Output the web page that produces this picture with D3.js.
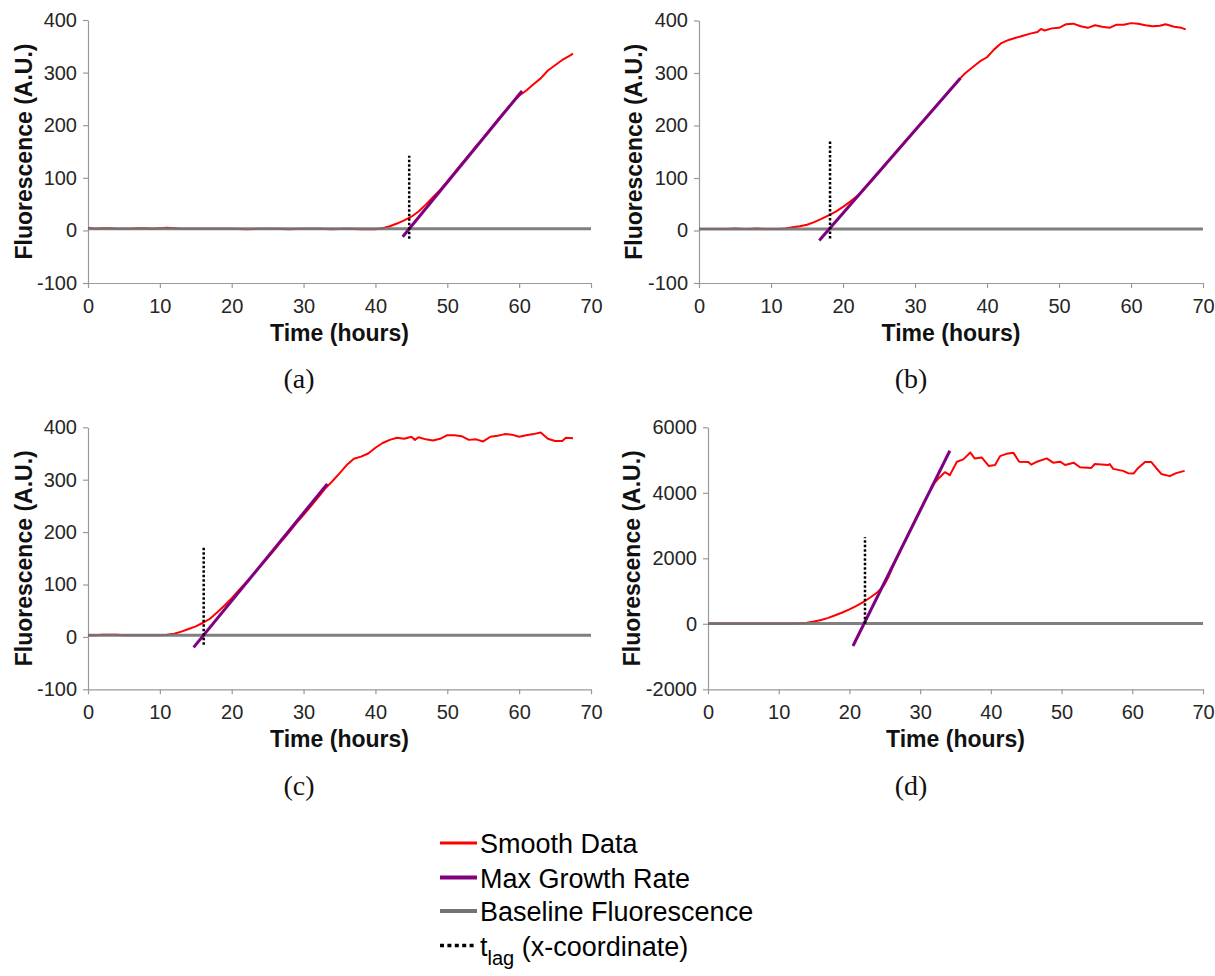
<!DOCTYPE html>
<html>
<head>
<meta charset="utf-8">
<script src="https://cdn.jsdelivr.net/npm/d3@7"></script>
<style>
  body { margin: 0; background: #fff; }
  svg { display: block; }
</style>
</head>
<body>
<svg id="fig" width="1215" height="976"></svg>
<script>
// ---- data: time (hours) vs fluorescence (A.U.) ----
const timeTicks = [0, 10, 20, 30, 40, 50, 60, 70];
const fluorTicksSmall = [-100, 0, 100, 200, 300, 400];
const fluorTicksLarge = [-2000, 0, 2000, 4000, 6000];
const panelLabels = ["(a)", "(b)", "(c)", "(d)"];

const smoothA = [[0,5],[1,3],[2,4],[3,4],[4,3],[5,3],[6,3],[7,4],[8,4],[9,3],[10,4],[11,5],[12,4],[13,3],[14,3],[15,3],[16,3],[18,3],[20,3],[22,2],[24,3],[26,3],[28,2],[30,3],[32,3],[34,2],[36,3],[38,2],[39,2],[40,2],[41,4],[42,8],[43,13],[44,19],[45,26],[46,36],[47,49],[48,63],[49,77],[50,93],[51,110],[52,127],[53,143],[54,160],[55,176],[56,193],[57,210],[58,226],[59,242],[60,256],[61,266],[62,278],[63,289],[64,304],[65,314],[66,324],[67,332],[67.5,336]];
const smoothB = [[0,3],[1,3],[2,3],[3,3],[4,3],[5,4],[6,3],[7,3],[8,4],[9,3],[10,3],[11,3],[12,4],[13,6],[14,8],[15,11],[16,16],[17,22],[18,29],[19,36],[20,45],[21,55],[22,66],[23,80],[24,95],[25,111],[26,127],[27,143],[28,159],[29,175],[30,191],[31,206],[32,222],[33,238],[34,254],[35,270],[36,286],[37,300],[38,311],[39,322],[40,330],[41,345],[42,357],[43,363],[44,367],[45,371],[46,375],[47,378],[47.5,384],[48,381],[49,385],[50,386],[51,393],[52,394],[53,389],[54,386],[55,391],[56,388],[57,386],[58,392],[59,392],[60,395],[61,394],[62,391],[63,389],[64,390],[64.8,393],[66,388],[67,386],[67.6,383]];
const smoothC = [[0,3],[1,3],[2,4],[3,4],[4,4],[5,3],[6,3],[7,3],[8,3],[9,3],[10,3],[11,4],[12,6],[13,10],[14,15],[15,20],[16,27],[17,35],[18,47],[19,60],[20,74],[21,89],[22,104],[23,119],[24,135],[25,151],[26,167],[27,184],[28,200],[29,217],[30,233],[31,249],[32,266],[33,283],[34,297],[35,312],[36,328],[37,340],[38,344],[39,350],[40,361],[41,370],[42,376],[43,380],[44,378],[45,382],[45.5,376],[46,381],[47,377],[48,375],[49,378],[50,385],[51,385],[52,383],[53,376],[54,377],[55,373],[56,382],[57,384],[58,387],[59,386],[60,382],[61,385],[62,387],[63,390],[64,378],[65,374],[66,374],[66.5,380],[67.5,379]];
const smoothD = [[0,0],[2,0],[4,0],[6,0],[8,0],[10,0],[12,5],[13,15],[14,35],[15,70],[16,115],[17,180],[18,260],[19,345],[20,440],[21,550],[22,670],[23,810],[24,970],[24.5,1080],[25,1220],[25.5,1420],[26,1680],[27,2150],[28,2600],[29,3040],[30,3480],[31,3900],[32,4290],[32.5,4420],[33,4520],[33.5,4630],[34.2,4540],[35.2,4950],[36.1,5020],[37.1,5230],[37.7,5050],[38.7,5080],[39.7,4820],[40.6,4850],[41.3,5120],[42.2,5190],[43.2,5220],[44,4950],[45.3,4940],[45.7,4860],[46.4,4940],[47.9,5050],[48.8,4920],[49.8,4950],[50.5,4850],[51.7,4920],[52.6,4780],[54.2,4760],[54.7,4880],[56.6,4850],[56.8,4880],[57.3,4730],[58.7,4670],[59.4,4600],[60.2,4590],[60.8,4750],[61.8,4940],[62.7,4940],[63.4,4750],[64.1,4575],[65.3,4510],[66.2,4600],[67.4,4670]];

// max-growth-rate tangent segments: [start, end] as [time, fluorescence]
const growthA = [[43.8,-12],[60.4,265]];
const growthB = [[16.7,-19],[36.3,290]];
const growthC = [[14.7,-20],[33.3,292]];
const growthD = [[20.5,-678],[34.2,5285]];

// baseline fluorescence level per panel
const baselines = [3, 3, 3, 10];
// lag time and the vertical extent of its marker per panel
const lagTimes = [44.7, 18.2, 16.1, 22.2];
const lagSpans = [[-16, 142], [-15, 171], [-15, 171], [0, 2640]];

const legendLabels = ["Smooth Data", "Max Growth Rate", "Baseline Fluorescence", "t_lag (x-coordinate)"];

// ---- layout ----
const layouts = [
  {left: 88,  right: 591,  top: 20,    bottom: 283,   ylabX: 24,  capX: 299, capY: 388, yDom: [-100, 400],   yTicks: fluorTicksSmall},
  {left: 699, right: 1203, top: 20.5,  bottom: 283,   ylabX: 634, capX: 911, capY: 388, yDom: [-100, 400],   yTicks: fluorTicksSmall},
  {left: 88,  right: 591,  top: 427.3, bottom: 689.3, ylabX: 24,  capX: 299, capY: 795, yDom: [-100, 400],   yTicks: fluorTicksSmall},
  {left: 708, right: 1203, top: 427.3, bottom: 689.3, ylabX: 632, capX: 911, capY: 795, yDom: [-2000, 6000], yTicks: fluorTicksLarge}
];
const smoothSets = [smoothA, smoothB, smoothC, smoothD];
const growthSets = [growthA, growthB, growthC, growthD];

const COL_RED = "#ff0000", COL_PURPLE = "#800080", COL_GRAY = "#747474";
const AXIS_COL = "#9a9a9a";

const svg = d3.select("#fig");

layouts.forEach((L, i) => {
  const x = d3.scaleLinear().domain([0, 70]).range([L.left, L.right]);
  const y = d3.scaleLinear().domain(L.yDom).range([L.bottom, L.top]);
  const g = svg.append("g");

  // axes
  const yAxis = d3.axisLeft(y).tickValues(L.yTicks).tickSize(5).tickSizeOuter(0).tickPadding(6).tickFormat(d => String(d));
  const xAxis = d3.axisBottom(x).tickValues(timeTicks).tickSize(5).tickSizeOuter(0).tickPadding(11).tickFormat(d => String(d));
  const gy = g.append("g").attr("transform", `translate(${L.left},0)`).call(yAxis);
  const gx = g.append("g").attr("transform", `translate(0,${L.bottom})`).call(xAxis);
  [gx, gy].forEach(ax => {
    ax.select(".domain").attr("stroke", AXIS_COL).attr("stroke-width", 1.2);
    ax.selectAll(".tick line").attr("stroke", AXIS_COL).attr("stroke-width", 1.2);
    ax.selectAll(".tick text").attr("fill", "#262626").style("font-family", "'Liberation Sans', Arial, sans-serif").style("font-size", "20px");
  });

  // axis titles
  g.append("text")
    .attr("x", (L.left + L.right) / 2).attr("y", L.bottom + 58)
    .attr("text-anchor", "middle")
    .style("font-family", "'Liberation Sans', Arial, sans-serif").style("font-size", "23px").style("font-weight", "bold")
    .attr("fill", "#111")
    .text("Time (hours)");
  g.append("text")
    .attr("transform", `translate(${L.ylabX},${(L.top + L.bottom) / 2}) rotate(-90)`)
    .attr("text-anchor", "middle").attr("dy", "0.35em")
    .style("font-family", "'Liberation Sans', Arial, sans-serif").style("font-size", "23px").style("font-weight", "bold")
    .attr("fill", "#111")
    .text("Fluorescence (A.U.)");

  const line = d3.line().x(d => x(d[0])).y(d => y(d[1]));

  // smoothed fluorescence
  g.append("path").datum(smoothSets[i])
    .attr("d", line).attr("fill", "none").attr("stroke", COL_RED).attr("stroke-width", 2).attr("stroke-linejoin", "round");

  // baseline fluorescence
  g.append("path").datum([[0, baselines[i]], [70, baselines[i]]])
    .attr("d", line).attr("fill", "none").attr("stroke", COL_GRAY).attr("stroke-width", 3).attr("stroke-opacity", 0.92);

  // tangent at max growth rate
  g.append("path").datum(growthSets[i])
    .attr("d", line).attr("fill", "none").attr("stroke", COL_PURPLE).attr("stroke-width", 3);

  // lag time marker
  g.append("path").datum([[lagTimes[i], lagSpans[i][0]], [lagTimes[i], lagSpans[i][1]]])
    .attr("d", line).attr("fill", "none").attr("stroke", "#000").attr("stroke-width", 2.5).attr("stroke-dasharray", "2.5,2");

  // panel caption
  g.append("text")
    .attr("x", L.capX).attr("y", L.capY).attr("text-anchor", "middle")
    .style("font-family", "'Liberation Serif', 'Times New Roman', serif").style("font-size", "28px")
    .attr("fill", "#111")
    .text(panelLabels[i]);
});

// ---- legend ----
const legend = svg.append("g");
const legendStyles = [
  {stroke: COL_RED, width: 3, dash: null},
  {stroke: COL_PURPLE, width: 4, dash: null},
  {stroke: COL_GRAY, width: 4, dash: null},
  {stroke: "#000", width: 3.5, dash: "4,3.4"}
];
const legendRows = [843, 877.5, 911, 945.5];
legendLabels.forEach((lab, k) => {
  const yy = legendRows[k];
  const st = legendStyles[k];
  legend.append("line")
    .attr("x1", 440).attr("x2", 477).attr("y1", yy).attr("y2", yy)
    .attr("stroke", st.stroke).attr("stroke-width", st.width)
    .attr("stroke-dasharray", st.dash);
  const t = legend.append("text")
    .attr("x", 480).attr("y", yy + 10)
    .style("font-family", "'Liberation Sans', Arial, sans-serif").style("font-size", "27px")
    .attr("fill", "#000");
  if (lab.startsWith("t_lag")) {
    t.append("tspan").text("t");
    t.append("tspan").attr("dy", 9).style("font-size", "20px").text("lag");
    t.append("tspan").attr("dy", -9).text(" (x-coordinate)");
  } else {
    t.text(lab);
  }
});
</script>
</body>
</html>
